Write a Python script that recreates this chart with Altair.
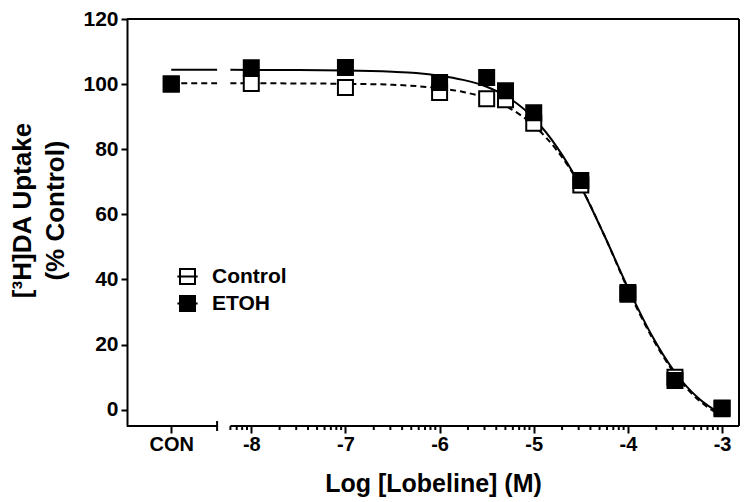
import math
import altair as alt
import pandas as pd

# ---------------- data ----------------
CON_POS = -8.85  # where the "CON" (no lobeline) column sits on the log axis

dose = ["CON", -8, -7, -6, -5.5, -5.3, -5, -4.5, -4, -3.5, -3]
control_vals = [100, 100.2, 99, 97.4, 95.5, 95.2, 88, 69, 36, 10, 0.5]
etoh_vals = [100, 105, 105.1, 100.5, 102, 98, 91.2, 70.4, 35.5, 9, 0.3]

# fitted curves (segment "a" is left of the axis break)
curve_x = ["CON", -8.363, -8.222, -7.5, -7, -6.5, -6.25, -6, -5.75, -5.5,
           -5.25, -5, -4.75, -4.5, -4.25, -4, -3.75, -3.5, -3.25, -3]
curve_seg = ["a", "a"] + ["b"] * 18
control_curve = [100.3, 100.3, 100.3, 100.2, 100.1, 99.8, 99.4, 98.7, 97.6, 95.7,
                 92.5, 87.3, 79.5, 68.5, 53.5, 37, 22.5, 11, 3, -2]
etoh_curve = [104.4, 104.4, 104.4, 104.3, 104.2, 103.8, 103.4, 102.6, 101.3, 99.2,
              95.5, 89.5, 80.5, 68.5, 53.5, 37.5, 23, 11.5, 3.5, -1.5]

major_ticks = ["CON", -8, -7, -6, -5, -4, -3]
y_ticks = [0, 20, 40, 60, 80, 100, 120]
series_names = ["Control", "ETOH"]

# ---------------- axis layout ----------------
X_MIN, X_MAX = -9.32, -2.82
Y_MIN, Y_MAX = -5, 120
BREAK_LEFT, BREAK_RIGHT = -8.363, -8.222


def pos(v):
    return CON_POS if v == "CON" else v


xscale = alt.Scale(domain=[X_MIN, X_MAX], nice=False, zero=False)
yscale = alt.Scale(domain=[Y_MIN, Y_MAX], nice=False, zero=False)

xaxis = alt.Axis(
    values=[pos(v) for v in major_ticks],
    labelExpr="datum.value < -8.5 ? 'CON' : toString(datum.value)",
    domain=False, grid=False,
    tickSize=7, tickWidth=2, tickColor="black",
    labelFontSize=20, labelPadding=1,
    title="Log [Lobeline] (M)", titleFontSize=25, titleY=65,
    titleBaseline="alphabetic",
)
yaxis = alt.Axis(
    values=y_ticks, format="d", grid=False,
    domain=True, domainWidth=2, domainColor="black",
    tickSize=6, tickWidth=2, tickColor="black",
    labelFontSize=21, labelPadding=3,
    title=["[³H]DA Uptake", "(% Control)"], titleFontSize=26,
    titleLineHeight=33, titleAngle=270, titleAlign="center",
    titleBaseline="top", titleX=-118, titleY=191,
)


def X(field):
    return alt.X(field, type="quantitative", scale=xscale, axis=xaxis)


def Y(field):
    return alt.Y(field, type="quantitative", scale=yscale, axis=yaxis)


# ---------------- frames ----------------
base_df = pd.DataFrame({"x": [X_MIN, BREAK_RIGHT], "x2": [BREAK_LEFT, X_MAX],
                        "y": [Y_MIN, Y_MIN]})
base_rule = alt.Chart(base_df).mark_rule(color="black", strokeWidth=2).encode(
    x=X("x"), x2="x2", y=Y("y"))

top_df = pd.DataFrame({"x": [X_MIN], "x2": [X_MAX], "y": [Y_MAX]})
top_rule = alt.Chart(top_df).mark_rule(color="black", strokeWidth=2).encode(
    x=X("x"), x2="x2", y=Y("y"))

right_df = pd.DataFrame({"x": [X_MAX], "y": [Y_MIN], "y2": [Y_MAX]})
right_rule = alt.Chart(right_df).mark_rule(color="black", strokeWidth=2).encode(
    x=X("x"), y=Y("y"), y2="y2")

# minor log ticks on the right-hand segment
minor = []
for d in range(-9, -3):
    for k in range(2, 10):
        v = d + math.log10(k)
        if BREAK_RIGHT - 1e-6 <= v < -3:
            minor.append(v)
minor_df = pd.DataFrame({"x": minor, "y": [Y_MIN] * len(minor)})
minor_ticks = alt.Chart(minor_df).mark_tick(
    orient="vertical", size=4, thickness=2, color="black", yOffset=2, opacity=1
).encode(x=X("x"), y=Y("y"))

break_df = pd.DataFrame({"x": [BREAK_LEFT], "y": [Y_MIN]})
break_tick = alt.Chart(break_df).mark_tick(
    orient="vertical", size=10, thickness=2, color="black", opacity=1
).encode(x=X("x"), y=Y("y"))

# ---------------- curves ----------------
curve_df = pd.DataFrame({
    "x": [pos(v) for v in curve_x], "seg": curve_seg,
    "control": control_curve, "etoh": etoh_curve,
})
control_line = alt.Chart(curve_df).mark_line(
    color="black", strokeWidth=2, strokeDash=[6, 4], interpolate="monotone"
).encode(x=X("x"), y=Y("control"), detail="seg:N")
etoh_line = alt.Chart(curve_df).mark_line(
    color="black", strokeWidth=2, interpolate="monotone"
).encode(x=X("x"), y=Y("etoh"), detail="seg:N")

# ---------------- points ----------------
fill_scale = alt.Scale(domain=series_names, range=["white", "black"])
legend = alt.Legend(
    title=None, orient="none", legendX=50, legendY=247, padding=0,
    symbolType="M-1,-1H1V1H-1Z M-1.35,0H1.35",
    symbolSize=225, symbolStrokeColor="black", symbolStrokeWidth=2,
    symbolOpacity=1, labelFontSize=21, labelFontWeight="bold",
    labelColor="black", labelFont="Liberation Sans", labelOffset=14,
    rowPadding=4,
)
pts_df = pd.DataFrame({
    "x": [pos(v) for v in dose] * 2,
    "y": control_vals + etoh_vals,
    "series": ["Control"] * len(dose) + ["ETOH"] * len(dose),
})
control_pts = alt.Chart(pts_df).transform_filter(
    alt.datum.series == "Control"
).mark_square(size=225, stroke="black", strokeWidth=2, opacity=1).encode(
    x=X("x"), y=Y("y"), fill=alt.Fill("series:N", scale=fill_scale, legend=legend))
etoh_pts = alt.Chart(pts_df).transform_filter(
    alt.datum.series == "ETOH"
).mark_square(size=225, stroke="black", strokeWidth=2, opacity=1).encode(
    x=X("x"), y=Y("y"), fill=alt.Fill("series:N", scale=fill_scale, legend=legend))

chart = alt.layer(
    base_rule, top_rule, right_rule, minor_ticks, break_tick,
    control_line, etoh_line, control_pts, etoh_pts,
).properties(
    width=612, height=407,
    autosize=alt.AutoSizeParams(type="none"),
    padding={"left": 119, "top": 11, "right": 3, "bottom": 74},
    background="white",
).configure_view(stroke=None).configure_axis(
    labelFont="Liberation Sans", labelFontWeight="bold", labelColor="black",
    titleFont="Liberation Sans", titleFontWeight="bold", titleColor="black",
)

chart.save("out.html", embed_options={"renderer": "svg", "actions": False})
